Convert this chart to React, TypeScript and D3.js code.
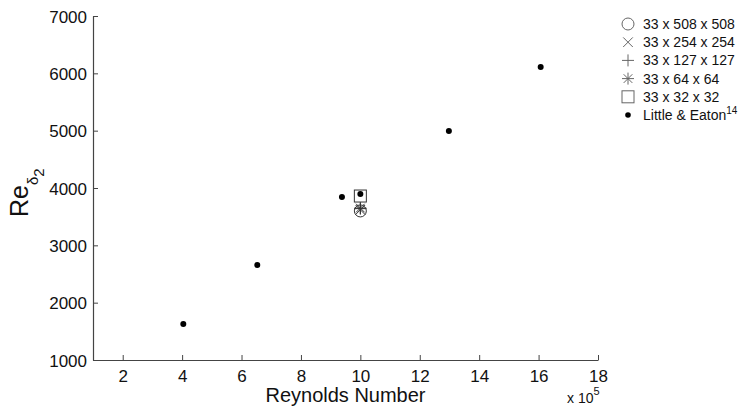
import React, { useEffect, useRef } from 'react'
import * as d3 from 'd3'

// Little & Eaton reference data (Reynolds number x 1e5, Re_delta2)
const eatonRe = [4.04, 6.53, 9.38, 10.0, 12.98, 16.07]
const eatonTheta = [1630, 2657, 3845, 3896, 4994, 6111]

// LES grid results at Re = 10 x 1e5
const gridNames = ['33 x 508 x 508', '33 x 254 x 254', '33 x 127 x 127', '33 x 64 x 64', '33 x 32 x 32']
const gridSymbols = ['circle', 'cross', 'plus', 'star', 'square']
const gridRe = [10, 10, 10, 10, 10]
const gridTheta = [3600, 3620, 3640, 3650, 3860]

const xTicks = [2, 4, 6, 8, 10, 12, 14, 16, 18]
const yTicks = [1000, 2000, 3000, 4000, 5000, 6000, 7000]

const App = () => {
  const svgRef = useRef<SVGSVGElement>(null)

  useEffect(() => {
    const width = 743
    const height = 408
    const left = 93, right = 598, top = 16, bottom = 360
    const font = 'Liberation Sans, Arial, sans-serif'

    const svg = d3.select(svgRef.current)
      .attr('width', width)
      .attr('height', height)
    svg.selectAll('*').remove()

    const x = d3.scaleLinear().domain([1, 18]).range([left, right])
    const y = d3.scaleLinear().domain([1000, 7000]).range([bottom, top])

    const xAxis = svg.append('g')
      .attr('transform', `translate(0,${bottom})`)
      .call(d3.axisBottom(x).tickValues(xTicks).tickFormat(d3.format('d')).tickSizeInner(-5).tickSizeOuter(0).tickPadding(8))
    const yAxis = svg.append('g')
      .attr('transform', `translate(${left},0)`)
      .call(d3.axisLeft(y).tickValues(yTicks).tickFormat(d3.format('d')).tickSizeInner(-5).tickSizeOuter(0).tickPadding(6))

    for (const ax of [xAxis, yAxis]) {
      ax.select('.domain').attr('stroke', '#444').attr('stroke-width', 1.2)
      ax.selectAll('.tick line').attr('stroke', '#444')
      ax.selectAll('.tick text')
        .attr('fill', '#111')
        .style('font-family', font)
        .style('font-size', '17px')
    }
    xAxis.selectAll('.tick text').attr('dy', '0.8em')
    yAxis.selectAll('.tick text').attr('dy', '0.36em')

    // axis titles
    svg.append('text')
      .attr('x', (left + right) / 2)
      .attr('y', 402)
      .attr('text-anchor', 'middle')
      .style('font-family', font)
      .style('font-size', '20px')
      .attr('fill', '#111')
      .text('Reynolds Number')

    const ex = svg.append('text')
      .attr('x', 567)
      .attr('y', 403)
      .style('font-family', font)
      .style('font-size', '14px')
      .attr('fill', '#111')
    ex.append('tspan').text('x 10')
    ex.append('tspan').attr('dy', -8).style('font-size', '11px').text('5')

    const yl = svg.append('text')
      .attr('transform', 'translate(28,217) rotate(-90)')
      .style('font-family', font)
      .style('font-size', '25px')
      .attr('fill', '#111')
    yl.append('tspan').text('Re')
    yl.append('tspan').attr('dy', 10).style('font-size', '15px').text('δ')
    yl.append('tspan').attr('dy', 6).style('font-size', '15px').text('2')

    // symbol helper
    const drawSym = (g: any, kind: string, cx: number, cy: number, col: string) => {
      const s = g.append('g').attr('transform', `translate(${cx},${cy})`)
        .attr('fill', 'none').attr('stroke', col).attr('stroke-width', 1)
      const r = 6
      if (kind === 'circle') s.append('circle').attr('r', r)
      if (kind === 'square') s.append('rect').attr('x', -r).attr('y', -r).attr('width', 2 * r).attr('height', 2 * r)
      if (kind === 'plus' || kind === 'star') {
        s.append('line').attr('x1', -r).attr('x2', r)
        s.append('line').attr('y1', -r).attr('y2', r)
      }
      if (kind === 'cross' || kind === 'star') {
        const d = kind === 'star' ? r * 0.72 : r * 0.8
        s.append('line').attr('x1', -d).attr('y1', -d).attr('x2', d).attr('y2', d)
        s.append('line').attr('x1', -d).attr('y1', d).attr('x2', d).attr('y2', -d)
      }
    }

    const marks = svg.append('g')
    gridSymbols.forEach((k, i) => drawSym(marks, k, x(gridRe[i]), y(gridTheta[i]), '#333'))

    marks.selectAll('circle.dot')
      .data(eatonRe)
      .join('circle')
      .attr('class', 'dot')
      .attr('cx', d => x(d))
      .attr('cy', (d, i) => y(eatonTheta[i]))
      .attr('r', 3)
      .attr('fill', '#000')

    // legend
    const legend = svg.append('g')
    const rowY = (i: number) => 24 + i * 18.2
    gridNames.forEach((name, i) => {
      drawSym(legend, gridSymbols[i], 628, rowY(i), '#666')
      legend.append('text')
        .attr('x', 643).attr('y', rowY(i)).attr('dy', '0.36em')
        .style('font-family', font).style('font-size', '14px').attr('fill', '#111')
        .text(name)
    })
    legend.append('circle').attr('cx', 628).attr('cy', rowY(5)).attr('r', 2.8).attr('fill', '#000')
    const le = legend.append('text')
      .attr('x', 643).attr('y', rowY(5)).attr('dy', '0.36em')
      .style('font-family', font).style('font-size', '14px').attr('fill', '#111')
    le.append('tspan').text('Little & Eaton')
    le.append('tspan').attr('dy', -6).style('font-size', '10px').text('14')
  }, [])

  return (
    <svg ref={svgRef} style={{ position: 'absolute', left: 0, top: 0, background: '#fff' }}></svg>
  )
}

export default App
